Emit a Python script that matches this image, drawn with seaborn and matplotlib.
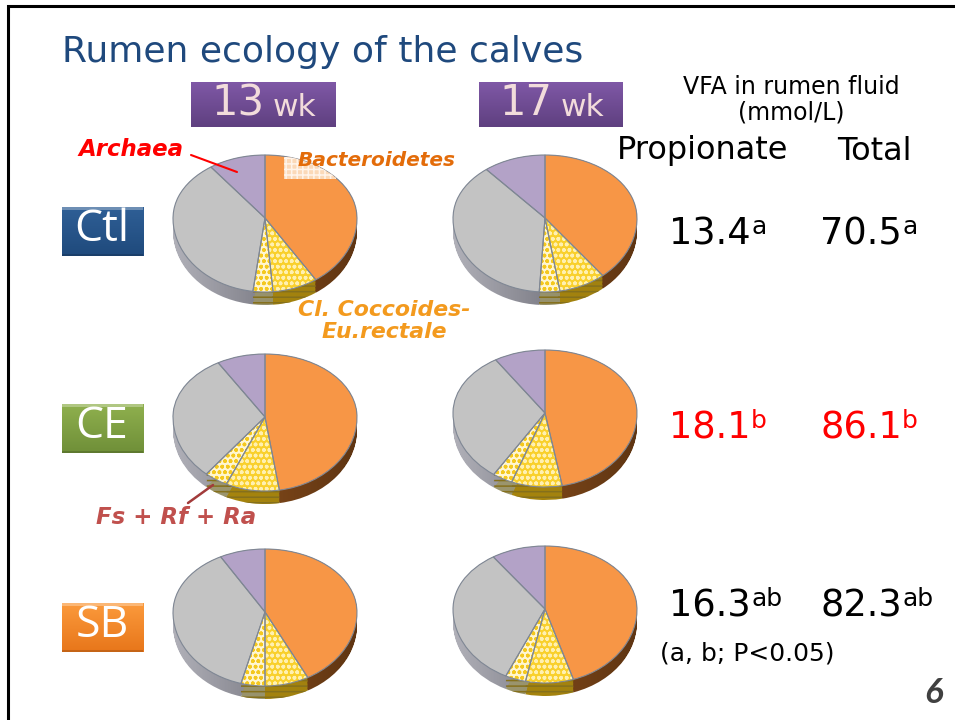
import numpy as np
import matplotlib
matplotlib.use("Agg")
import matplotlib.pyplot as plt
from matplotlib.patches import Rectangle, PathPatch
from matplotlib.path import Path
import seaborn as sns

sns.set_theme(style="white")
plt.rcParams["font.family"] = ["DejaVu Sans"]
plt.rcParams["hatch.linewidth"] = 1.1

W, H = 955, 720

# shares clockwise from the top
slices = ["Bacteroidetes", "Cl. Coccoides-Eu.rectale", "Fs + Rf + Ra", "Others", "Archaea"]
ctl_13 = [40.7, 7.9, 3.5, 37.9, 10.0]
ctl_17 = [39.2, 8.2, 3.6, 38.0, 11.0]
ce_13 = [47.5, 9.4, 4.1, 30.5, 8.5]
ce_17 = [47.0, 8.9, 3.5, 31.6, 9.0]
sb_13 = [42.3, 7.7, 4.2, 37.8, 8.0]
sb_17 = [45.0, 8.4, 3.6, 33.5, 9.5]

groups = ["Ctl", "CE", "SB"]
weeks = ["13", "17"]
propionate = ["13.4", "18.1", "16.3"]
propionate_sup = ["a", "b", "ab"]
total = ["70.5", "86.1", "82.3"]
total_sup = ["a", "b", "ab"]

top_colors = ["#f79646", "#f9d02c", "#fff6d0", "#c3c3c3", "#b3a2c7"]
rim_colors = [("#96551f", "#5f3512"), ("#a8860c", "#a08010"), ("#a09a70", "#8f8a68"),
              ("#b0b0b8", "#50505a"), ("#777777", "#777777")]
button_colors = {"Ctl": ("#2f5f96", "#1f4a7c"), "CE": ("#8fb04e", "#6f8f38"), "SB": ("#fb9a3c", "#e8761a")}

fig = plt.figure(figsize=(W / 100, H / 100), dpi=100, facecolor="white")


def px_axes(x0, y0, x1, y1, z):
    return fig.add_axes([x0 / W, 1 - y1 / H, (x1 - x0) / W, (y1 - y0) / H], zorder=z)


def draw_pie(values, cx, cy):
    rx, r_up, r_down, depth = 92, 63, 74, 13
    ax = px_axes(cx - rx, cy - r_up, cx + rx, cy + r_down + depth, 1)
    dy = depth / r_down
    # piled rim under the top face
    rim_paths = [[] for _ in values]
    for k in np.linspace(dy, 0, 10):
        wedges, _ = ax.pie(values, center=(0, -k), radius=1, startangle=90,
                           counterclock=False, colors=["none"] * 5)
        for i, w in enumerate(wedges):
            rim_paths[i].append(w.get_path())
            w.set_visible(False)
    for i, paths in enumerate(rim_paths):
        clip = PathPatch(Path.make_compound_path(*paths), transform=ax.transData, fc="none", ec="none")
        ax.add_patch(clip)
        cmap = sns.blend_palette(rim_colors[i], as_cmap=True)
        im = ax.imshow(np.linspace(0, 1, 64)[None, :], extent=(0, 1, 0, 1), cmap=cmap, aspect="auto", zorder=2)
        im.set_transform(ax.transAxes)
        im.set_clip_path(clip)
        if i in (1, 2):
            ax.add_patch(PathPatch(clip.get_path(), transform=ax.transData, fc="none",
                                   ec="#85701c", lw=0, hatch="---", zorder=3))
    # top face
    wedges, _ = ax.pie(values, radius=1, startangle=90, counterclock=False, colors=top_colors,
                       wedgeprops=dict(lw=0))
    for w in wedges:
        w.set_zorder(4)
    wedges[1].set(hatch="ooo", edgecolor="#fff0b0", lw=0)
    wedges[2].set(hatch="ooo", edgecolor="#f4c81e", lw=0)
    outline, _ = ax.pie(values, radius=1, startangle=90, counterclock=False, colors=["none"] * 5,
                        wedgeprops=dict(lw=0.8, edgecolor="#7f8794"))
    for w in outline:
        w.set_zorder(5)
    ax.set_aspect("auto")
    ax.set_yscale("function", functions=(
        lambda y: np.where(y > 0, y * r_up, y * r_down),
        lambda v: np.where(v > 0, v / r_up, v / r_down)))
    ax.set_xlim(-1, 1)
    ax.set_ylim(-1 - dy, 1)
    ax.axis("off")
    ax.patch.set_visible(False)
    return wedges


bg = px_axes(0, 0, W, H, 0)
bg.set_xlim(0, W)
bg.set_ylim(H, 0)
bg.axis("off")
bg.add_patch(Rectangle((7.5, 6), W + 20, H + 20, fc="white", ec="black", lw=2.2))

top = px_axes(0, 0, W, H, 3)
top.axis("off")
top.patch.set_visible(False)

# pies
pie_x = [265, 545]
pie_y = [218, 417, 612]
pie_y2 = [218, 413, 609]
first = draw_pie(ctl_13, pie_x[0], pie_y[0])
draw_pie(ctl_17, pie_x[1], pie_y2[0])
draw_pie(ce_13, pie_x[0], pie_y[1])
draw_pie(ce_17, pie_x[1], pie_y2[1])
draw_pie(sb_13, pie_x[0], pie_y[2])
draw_pie(sb_17, pie_x[1], pie_y2[2])

# title and headers
top.text(62, 52, "Rumen ecology of the calves", color="#1f497d", fontsize=26, va="center", ha="left")

for x, wk in zip([191, 479], weeks):
    top.imshow(np.linspace(0, 1, 64)[:, None], extent=(x, x + 144, 127, 82), aspect="auto",
               cmap=sns.blend_palette(["#5f4080", "#7f58a6"], as_cmap=True), origin="lower")
    top.text(x + 20, 103, wk, color="#f2dcdb", fontsize=30, va="center", ha="left")
    top.text(x + 82, 108, "wk", color="#f2dcdb", fontsize=22.5, va="center", ha="left")

for y, g in zip([207, 404, 603], groups):
    c0, c1 = button_colors[g]
    top.imshow(np.linspace(0, 1, 64)[:, None], extent=(62, 143, y + 49, y), aspect="auto",
               cmap=sns.blend_palette([c1, c0], as_cmap=True), origin="lower")
    top.add_patch(Rectangle((62, y), 81, 2.5, fc="white", ec="none", alpha=0.3))
    top.add_patch(Rectangle((62, y + 46.5), 81, 2.5, fc="black", ec="none", alpha=0.15))
    top.text(102, y + 23, g, color="white", fontsize=32, va="center", ha="center", family="Open Sans")
top.set_xlim(0, W)
top.set_ylim(H, 0)

top.text(791, 100, "VFA in rumen fluid\n(mmol/L)", fontsize=17, ha="center", va="center", color="black", linespacing=1.1)
top.text(703, 151, "Propionate", fontsize=23, ha="center", va="center", color="black")
top.text(874, 151, "Total", fontsize=23, ha="center", va="center", color="black")

val_y = [234, 428, 606]
val_cols = ["black", "#ff0000", "black"]
for y, c, p, ps, t, ts in zip(val_y, val_cols, propionate, propionate_sup, total, total_sup):
    top.text(669, y, p, fontsize=26.5, color=c, va="center", ha="left")
    top.text(751, y - 7, ps, fontsize=18, color=c, va="center", ha="left")
    top.text(820, y, t, fontsize=26.5, color=c, va="center", ha="left")
    top.text(902, y - 7, ts, fontsize=18, color=c, va="center", ha="left")

top.text(660, 653, "(a, b; P<0.05)", fontsize=18, color="black", va="center", ha="left")
top.text(933, 693, "6", fontsize=25, color="#404040", va="center", ha="center",
         family="Lato", style="italic", weight="bold")

# slice labels
patch = Rectangle((284, 157), 52, 22, fc="#fbd9b8", ec="#fff4ea", lw=0, hatch="+++", zorder=1)
top.add_patch(patch)
patch.set_clip_path(first[0])

top.text(78, 150, "Archaea", fontsize=16.5, color="#ff0000", style="italic", weight="bold", va="center", ha="left")
top.plot([191, 237], [155, 172], color="#ff0000", lw=1.5)
top.text(298, 160, "Bacteroidetes", fontsize=14.5, color="#e36c0a", style="italic", weight="bold", va="center", ha="left")
top.text(384, 321, "Cl. Coccoides-\nEu.rectale", fontsize=15.8, color="#f39a1e", style="italic", weight="bold",
         va="center", ha="center", linespacing=1.1)
top.text(176, 518, "Fs + Rf + Ra", fontsize=16.5, color="#c0504d", style="italic", weight="bold", va="center", ha="center")
top.plot([188, 213], [503, 485], color="#a23b3b", lw=1.8)

fig.savefig("out.png", dpi=100)
